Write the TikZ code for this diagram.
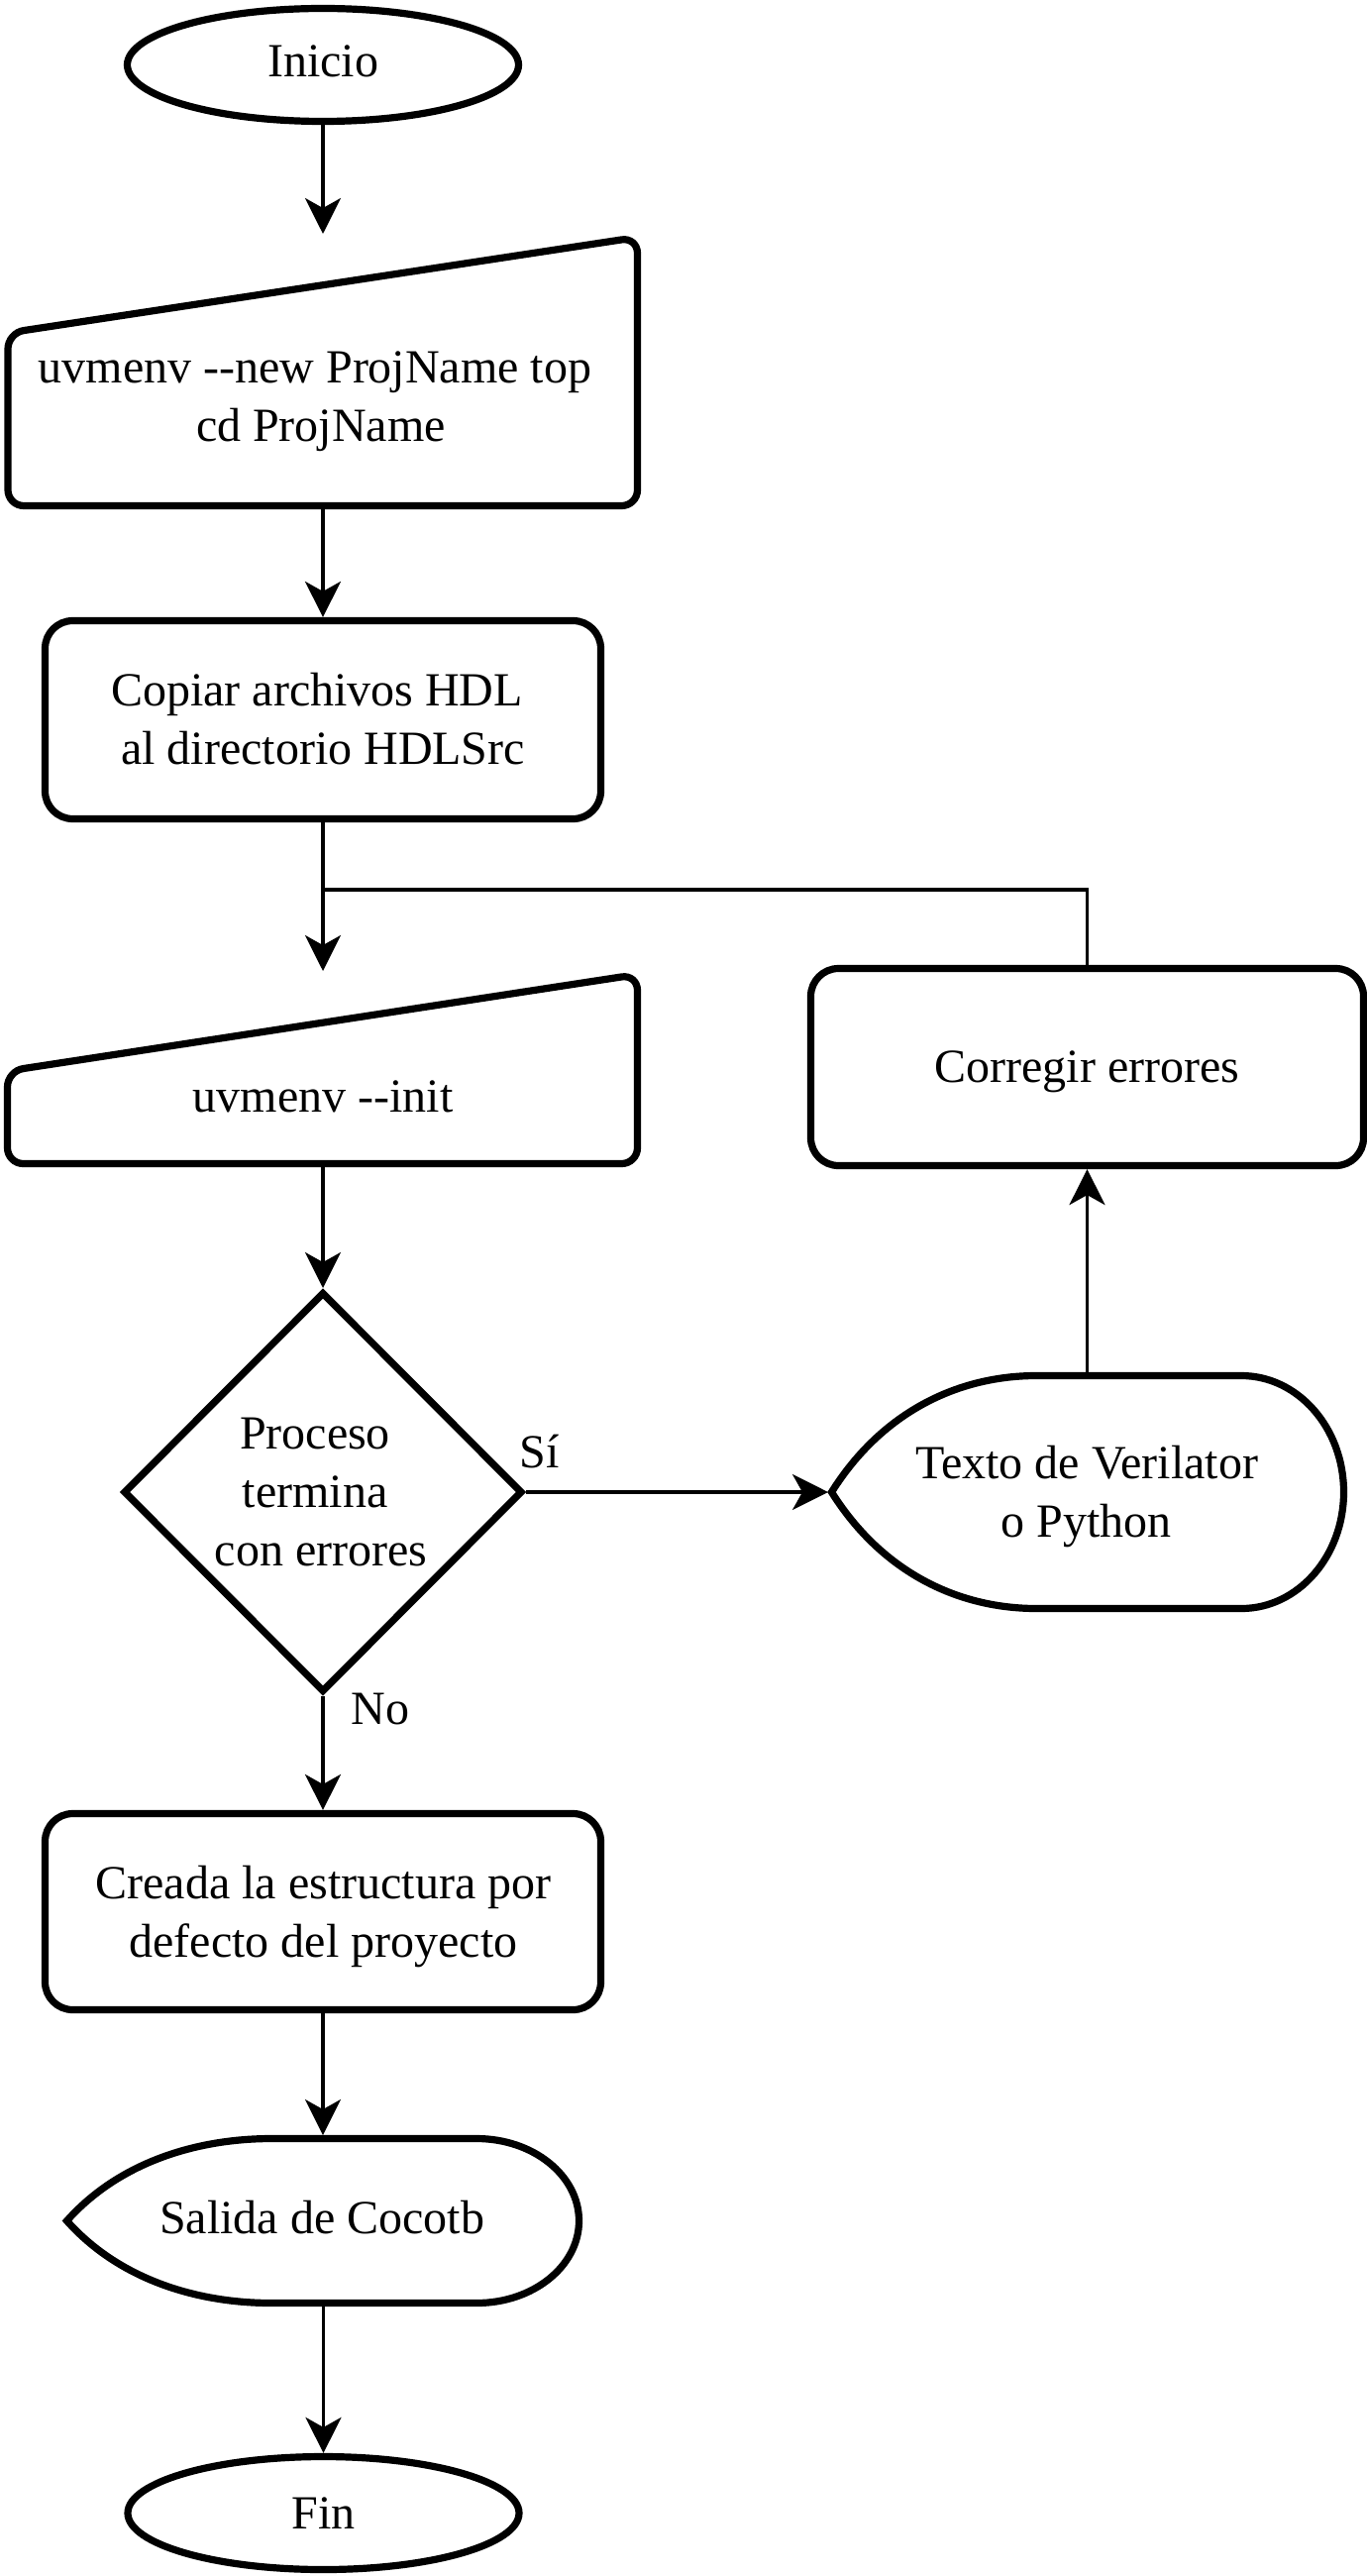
\documentclass[tikz,border=0pt]{standalone}
\usepackage{fontspec}
\setmainfont{Liberation Serif}
\usetikzlibrary{arrows.meta,shapes.geometric}
\begin{document}
\begin{tikzpicture}[x=0.5pt,y=-0.5pt,
  shp/.style={draw=black, line width=3.6pt},
  conn/.style={draw=black, line width=1.7pt},
  arr/.style={conn, -{Stealth[length=18pt,width=18pt,inset=5pt]}},
  txt/.style={font=\fontsize{24}{29.5}\selectfont, align=center, inner sep=0pt},
  box/.style={shp, rectangle, rounded corners=14pt, minimum width=280.5pt, minimum height=100pt, inner sep=0pt},
  term/.style={shp, ellipse, minimum width=197.5pt, minimum height=57pt, inner sep=0pt},
  ghost/.style={rectangle, inner sep=0pt, outer sep=0pt}]

\fill[white] (0,0) rectangle (1380,2600);
\useasboundingbox (0,0) rectangle (1380,2600);

% Inicio
\node[term] (inicio) at (326,65.5) {};
\node[txt] (iniciot) at (326,62) {Inicio};

% manual input 1
\node[ghost, minimum width=321.25pt, minimum height=139pt] (mi1) at (325.75,375) {};
\draw[shp, rounded corners=8pt] (8,336) -- (643.5,239.5) -- (643.5,510.5) -- (8,510.5) -- cycle;
\node[txt] (mi1t) at (324,405) {uvmenv -\kern0pt-new ProjName top\kern6pt\\cd ProjName};

% Copiar
\node[box] (copiar) at (326,726.5) {};
\node[txt] (copiart) at (326,726) {Copiar archivos HDL\kern6pt\\al directorio HDLSrc};

% manual input 2
\node[ghost, minimum width=321.5pt, minimum height=99pt] (mi2) at (325.5,1079) {};
\draw[shp, rounded corners=8pt] (7.5,1081) -- (643.5,983.5) -- (643.5,1174.5) -- (7.5,1174.5) -- cycle;
\node[txt] (mi2t) at (326,1107) {uvmenv -\kern0pt-init};

% Corregir
\node[box, minimum width=279pt, minimum height=99.5pt] (corregir) at (1097.5,1077) {};
\node[txt] (corregirt) at (1097.5,1081.5) {Corregir errores};

% Decision
\node[ghost, minimum width=205pt, minimum height=206pt] (dec) at (326,1506) {};
\draw[shp, line join=miter] (126,1506) -- (326,1305.5) -- (526,1506) -- (326,1706.5) -- cycle;
\node[txt] (dect) at (324,1506) {Proceso\kern6pt\\termina\kern6pt\\con errores};

% Texto (display)
\node[ghost, minimum width=262pt, minimum height=121pt] (texto) at (1098,1506) {};
\draw[shp] (1046.3,1388.5) -- (1253.1,1388.5)
  arc[start angle=90, end angle=-90, x radius=51.7pt, y radius=58.75pt]
  -- (1046.3,1623.5)
  .. controls (968.75,1623.5) and (891.2,1588.25) .. (839.5,1506)
  .. controls (891.2,1423.75) and (968.75,1388.5) .. cycle;
\node[txt] (textot) at (1097,1511) {Texto de Verilator\\o Python};

% Creada
\node[box, minimum height=99pt] (creada) at (326,1929.5) {};
\node[txt] (creadat) at (326.5,1934.5) {Creada la estructura por\\defecto del proyecto};

% Salida (display)
\node[ghost, minimum width=262pt, minimum height=86.5pt] (salida) at (326,2241.5) {};
\draw[shp] (274.3,2158.5) -- (481.1,2158.5)
  arc[start angle=90, end angle=-90, x radius=51.7pt, y radius=41.5pt]
  -- (274.3,2324.5)
  .. controls (196.75,2324.5) and (119.2,2299.6) .. (67.5,2241.5)
  .. controls (119.2,2183.4) and (196.75,2158.5) .. cycle;
\node[txt] (salidat) at (325,2238.5) {Salida de Cocotb};

% Fin
\node[term] (fin) at (326.5,2536.5) {};
\node[txt] (fint) at (326.5,2536.5) {Fin};

% labels
\node[txt] (si) at (545,1465) {Sí};
\node[txt] (no) at (384,1725) {No};

% connectors
\coordinate (jn) at (326,898);
\draw[arr] (inicio.south) -- (inicio.south |- mi1.north);
\draw[arr] (copiar.north |- mi1.south) -- (copiar.north);
\draw[arr] (copiar.south) -- (copiar.south |- mi2.north);
\draw[conn] (corregir.north) |- (jn);
\draw[arr] (dec.north |- mi2.south) -- (dec.north);
\draw[arr] (dec.east) -- (texto.west);
\draw[arr] (corregir.south |- texto.north) -- (corregir.south);
\draw[arr] (dec.south) -- (dec.south |- creada.north);
\draw[arr] (creada.south) -- (creada.south |- salida.north);
\draw[arr] (salida.south -| fin.north) -- (fin.north);
\end{tikzpicture}
\end{document}
